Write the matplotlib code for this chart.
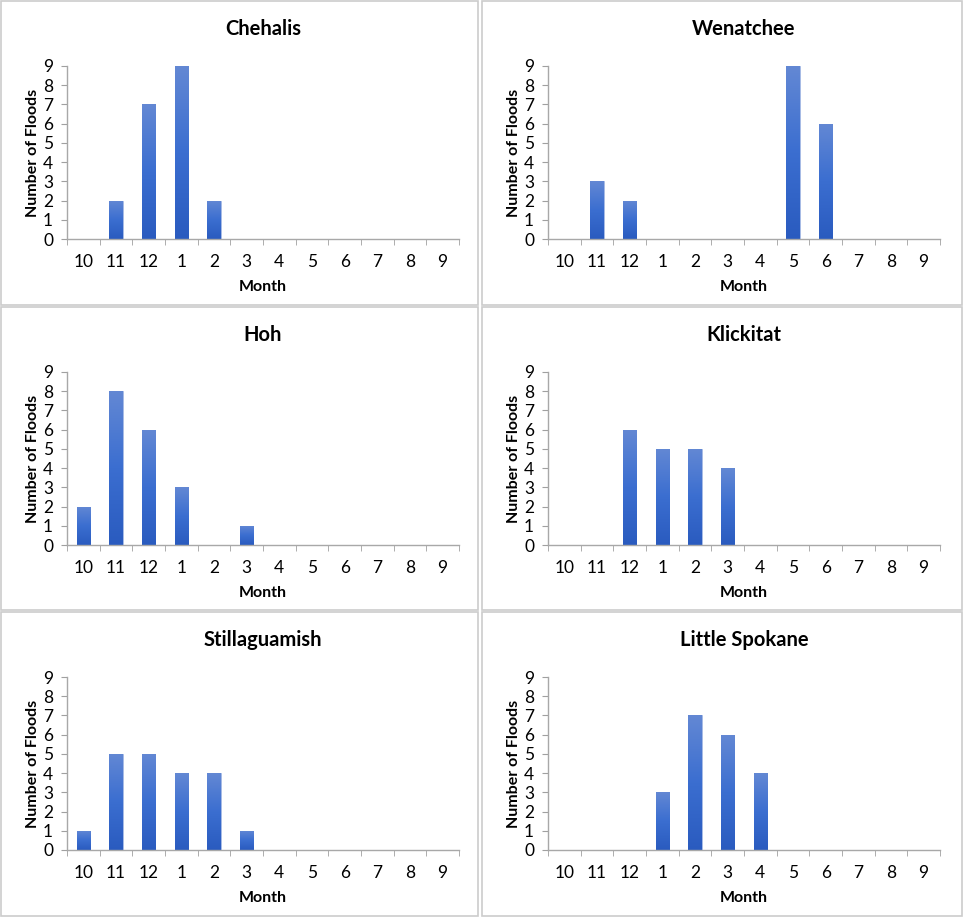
import numpy as np
import matplotlib.pyplot as plt
from matplotlib.patches import Rectangle
from matplotlib.colors import LinearSegmentedColormap

plt.rcParams['font.family'] = ['Lato', 'DejaVu Sans']

# months run Oct..Sep
months = ['10', '11', '12', '1', '2', '3', '4', '5', '6', '7', '8', '9']

rivers = ['Chehalis', 'Wenatchee', 'Hoh', 'Klickitat', 'Stillaguamish', 'Little Spokane']
chehalis = [0, 2, 7, 9, 2, 0, 0, 0, 0, 0, 0, 0]
wenatchee = [0, 3, 2, 0, 0, 0, 0, 9, 6, 0, 0, 0]
hoh = [2, 8, 6, 3, 0, 1, 0, 0, 0, 0, 0, 0]
klickitat = [0, 0, 6, 5, 5, 4, 0, 0, 0, 0, 0, 0]
stillaguamish = [1, 5, 5, 4, 4, 1, 0, 0, 0, 0, 0, 0]
little_spokane = [0, 0, 0, 3, 7, 6, 4, 0, 0, 0, 0, 0]
counts = [chehalis, wenatchee, hoh, klickitat, stillaguamish, little_spokane]

W, H = 964, 917
fig = plt.figure(figsize=(W / 100, H / 100), dpi=100)

# panel boxes in pixels: (left, top, width, height)
boxes = [(1, 1, 477, 304), (482, 1, 480, 304),
         (1, 307, 477, 303), (482, 307, 480, 303),
         (1, 612, 477, 304), (482, 612, 480, 304)]

grad = np.linspace(0, 1, 256).reshape(-1, 1)
cmap = LinearSegmentedColormap.from_list('bar', ['#2a5bbf', '#3b6ed0', '#6388d4'])

for name, vals, (bx, by, bw, bh) in zip(rivers, counts, boxes):
    # panel border
    fig.patches.append(Rectangle((bx / W, 1 - (by + bh) / H), bw / W, bh / H,
                                 transform=fig.transFigure, fill=False,
                                 edgecolor='#cccccc', linewidth=1.2))
    ax_left = bx + 66
    ax_top = by + 65
    ax = fig.add_axes([ax_left / W, 1 - (ax_top + 173) / H, 392 / W, 173 / H])
    x = np.arange(len(months))
    bars = ax.bar(x, vals, width=0.4, color='#3d6fcc', edgecolor='#a9bde6',
                  linewidth=0.6, zorder=2)
    for b in bars:
        if b.get_height() <= 0:
            continue
        im = ax.imshow(grad, extent=[b.get_x(), b.get_x() + b.get_width(), 0, b.get_height()],
                       aspect='auto', cmap=cmap, origin='lower', zorder=2.5, vmin=0, vmax=1)
        im.set_clip_path(b)
    ax.set_xlim(-0.5, 11.5)
    ax.set_ylim(0, 9)
    ax.set_yticks(range(10))
    ax.set_xticks(x)
    ax.set_xticklabels(months)
    ax.set_xticks(np.arange(-0.5, 12, 1), minor=True)
    ax.tick_params(axis='x', which='major', length=0, pad=11, labelsize=12.5)
    ax.tick_params(axis='x', which='minor', length=4, color='#a0a0a0', direction='out')
    ax.tick_params(axis='y', length=4, color='#a0a0a0', labelsize=12.5, pad=6)
    for s in ['top', 'right']:
        ax.spines[s].set_visible(False)
    for s in ['left', 'bottom']:
        ax.spines[s].set_color('#a8a8a8')
        ax.spines[s].set_linewidth(1.0)
    ax.set_xlabel('Month', fontsize=11.5, fontweight='bold', labelpad=7)
    ax.set_ylabel('Number of Floods', fontsize=11.5, fontweight='bold', labelpad=2)
    ax.set_title(name, fontsize=14.5, fontweight='bold', pad=22)

fig.savefig('out.png', dpi=100)
